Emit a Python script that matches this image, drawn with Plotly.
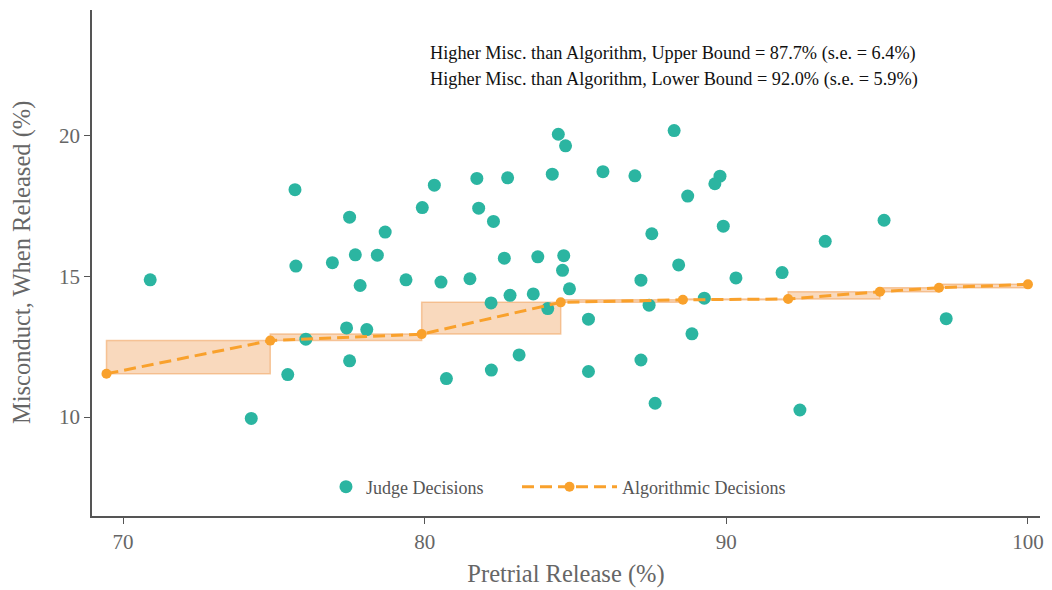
import plotly.graph_objects as go

# Judge decisions: pretrial release rate vs. misconduct rate (%)
judge_release = [70.9, 75.7, 75.73, 77.51, 78.69, 76.94, 77.7, 78.43, 77.86, 79.38,
                 79.92, 80.32, 80.54, 77.41, 78.08, 76.06, 77.51, 75.46, 74.25, 84.43,
                 84.67, 88.27, 81.73, 82.75, 84.23, 85.91, 86.97, 89.79, 89.62, 88.72,
                 81.79, 82.28, 87.53, 89.9, 82.64, 83.75, 84.61, 84.57, 88.42, 90.32,
                 81.5, 87.17, 84.8, 82.2, 82.83, 83.6, 84.08, 87.44, 89.27, 85.43,
                 88.86, 83.13, 80.72, 82.21, 85.43, 87.17, 87.64, 95.23, 93.28, 91.85,
                 97.29, 92.44]
judge_misconduct = [14.88, 18.09, 15.37, 17.11, 16.58, 15.49, 15.77, 15.76, 14.68, 14.88,
                    17.45, 18.25, 14.8, 13.17, 13.11, 12.77, 12.0, 11.51, 9.95, 20.06,
                    19.65, 20.19, 18.49, 18.51, 18.64, 18.73, 18.58, 18.57, 18.3, 17.86,
                    17.43, 16.96, 16.52, 16.79, 15.65, 15.7, 15.74, 15.22, 15.41, 14.95,
                    14.92, 14.87, 14.56, 14.06, 14.33, 14.38, 13.86, 13.98, 14.23, 13.48,
                    12.96, 12.21, 11.37, 11.67, 11.62, 12.03, 10.49, 17.0, 16.25, 15.14,
                    13.5, 10.25]

# Algorithmic decisions along the release-rate frontier
algo_release = [69.45, 74.88, 79.9, 84.51, 88.56, 92.05, 95.09, 97.05, 100.0]
algo_misconduct = [11.54, 12.72, 12.95, 14.08, 14.17, 14.2, 14.46, 14.6, 14.72]

annotation_lines = [
    "Higher Misc. than Algorithm, Upper Bound = 87.7% (s.e. = 6.4%)",
    "Higher Misc. than Algorithm, Lower Bound = 92.0% (s.e. = 5.9%)",
]

TEAL = "#2bb5a1"
ORANGE = "#f9a12c"
GREY = "#666666"
FONT = "Liberation Serif"

# Bound rectangles spanning consecutive algorithmic points
box_x, box_y = [], []
for i in range(len(algo_release) - 1):
    x0, x1 = algo_release[i], algo_release[i + 1]
    y0, y1 = algo_misconduct[i], algo_misconduct[i + 1]
    box_x += [x0, x1, x1, x0, x0, None]
    box_y += [y0, y0, y1, y1, y0, None]

fig = go.Figure()

fig.add_trace(go.Scatter(
    x=box_x, y=box_y, mode="lines", fill="toself",
    fillcolor="rgba(240,160,90,0.4)",
    line=dict(color="rgba(240,160,90,0.55)", width=1.5),
    showlegend=False, hoverinfo="skip",
))

fig.add_trace(go.Scatter(
    x=judge_release, y=judge_misconduct, mode="markers",
    name="Judge Decisions", legend="legend",
    marker=dict(color=TEAL, size=13),
))

fig.add_trace(go.Scatter(
    x=algo_release, y=algo_misconduct, mode="lines+markers",
    name="Algorithmic Decisions", legend="legend2",
    line=dict(color=ORANGE, width=3, dash="12px,6px"),
    marker=dict(color=ORANGE, size=10),
))

for i, txt in enumerate(annotation_lines):
    fig.add_annotation(
        x=0.3544, y=0.915 - i * 0.053, xref="paper", yref="paper",
        xanchor="left", yanchor="middle", showarrow=False,
        text=txt, font=dict(family=FONT, size=18.3, color="#111111"),
    )

# Vertical axis title placed as rotated text
fig.add_annotation(
    x=-0.0738, y=0.5, xref="paper", yref="paper",
    xanchor="center", yanchor="middle", showarrow=False, textangle=-90,
    text="Misconduct, When Released (%)",
    font=dict(family=FONT, size=24.5, color=GREY),
)

axis_common = dict(
    showgrid=False, zeroline=False, showline=True, linecolor="#555555",
    linewidth=1.5, ticks="outside", ticklen=6, tickcolor="#555555",
    automargin=False,
    tickfont=dict(family=FONT, size=21, color=GREY),
)

legend_common = dict(
    orientation="h", y=0.0573, yanchor="middle", xanchor="left",
    font=dict(family=FONT, size=18, color="#555555"),
    bgcolor="rgba(0,0,0,0)",
)

fig.update_layout(
    width=1052, height=590,
    margin=dict(l=92, r=12, t=10, b=74),
    plot_bgcolor="white", paper_bgcolor="white",
    xaxis=dict(range=[68.97, 100.4], tickvals=[70, 80, 90, 100],
               title=dict(text="Pretrial Release (%)", standoff=12,
                          font=dict(family=FONT, size=24.5, color=GREY)),
               **axis_common),
    yaxis=dict(range=[6.48, 24.48], tickvals=[10, 15, 20], **axis_common),
    legend=dict(x=0.2468, itemwidth=30, **legend_common),
    legend2=dict(x=0.4483, itemwidth=95, **legend_common),
)

fig.write_html("out.html")
